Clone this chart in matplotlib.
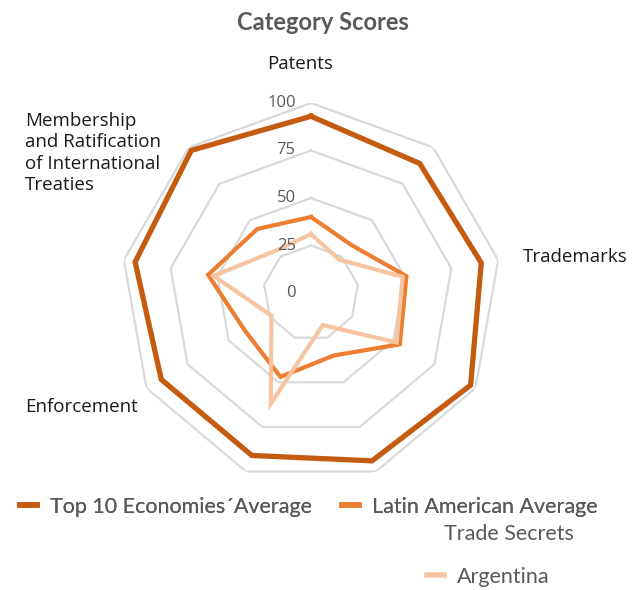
import numpy as np
import matplotlib.pyplot as plt
from matplotlib.lines import Line2D

# category order around the chart (clockwise from top)
categories = ["Patents", "Copyrights", "Trademarks", "Design Rights", "Trade Secrets",
              "Commercialization", "Enforcement", "Systemic Efficiency",
              "Membership and Ratification of International Treaties"]
series_names = ["Top 10 Economies\u00b4Average", "Latin American Average", "Argentina"]
top10 = [93, 89, 91, 97, 94, 91, 91, 94, 98]
latam = [40, 33, 51, 54, 35, 47, 40, 55, 44]
argentina = [31, 23, 49, 52, 18, 62, 24, 52, 29]
rings = [25, 50, 75, 100]
tick_labels = ["0", "25", "50", "75", "100"]

colors = ["#C55A11", "#ED7D31", "#F7C4A2"]
widths = [3.8, 3.0, 3.0]
grey = "#595959"

fig = plt.figure(figsize=(6.39, 5.9), dpi=100)
W, H = 639.0, 590.0
cx, cy, R = 311, 293, 190
ax = fig.add_axes([(cx - R) / W, 1 - (cy + R) / H, 2 * R / W, 2 * R / H], polar=True)
ax.set_theta_offset(np.pi / 2)
ax.set_theta_direction(-1)
ax.set_ylim(0, 100)
ax.set_axis_off()

n = len(categories)
ang = np.linspace(0, 2 * np.pi, n, endpoint=False)
ang_c = np.append(ang, ang[0])

# nonagon grid
for lv in rings:
    ax.plot(ang_c, [lv] * (n + 1), color="#D9D9D9", lw=1.6, zorder=1)

for vals, c, lw, name in zip([top10, latam, argentina], colors, widths, series_names):
    ax.plot(ang_c, vals + vals[:1], color=c, lw=lw, zorder=3, label=name,
            solid_joinstyle="miter")

# radial tick labels along the top axis
for lv, t in zip([0] + rings, tick_labels):
    ax.annotate(t, xy=(0, lv), xytext=(-11, 0), textcoords="offset points",
                ha="right", va="center", fontsize=12, color=grey,
                family="Open Sans", zorder=5)

# title
fig.text(323 / W, 1 - 22 / H, "Category Scores", ha="center", va="center",
         fontsize=17, fontweight="bold", color=grey, family="Lato")

# category labels (only those visible in the original)
lab_font = dict(fontsize=13.5, color="#1a1a1a", family="Open Sans")
fig.text(300 / W, 1 - 64 / H, categories[0], ha="center", va="center", **lab_font)
fig.text(523 / W, 1 - 257 / H, categories[2], ha="left", va="center", **lab_font)
fig.text(25 / W, 1 - 407 / H, categories[6], ha="left", va="center", **lab_font)
fig.text(25 / W, 1 - 153 / H, "Membership\nand Ratification\nof International\nTreaties",
         ha="left", va="center", linespacing=1.25, **lab_font)

# legend
handles = [Line2D([0], [0], color=c, lw=4) for c in colors]
leg_font = dict(family="Lato", size=15.5)
leg1 = fig.legend(handles[:2], series_names[:2], loc="center left",
                  bbox_to_anchor=(20 / W, 1 - 507 / H), ncol=2, frameon=False,
                  handlelength=0.8, handletextpad=0.6, columnspacing=1.4,
                  borderaxespad=0, borderpad=0, prop=leg_font, labelcolor=grey)
leg2 = fig.legend(handles[2:], series_names[2:], loc="center left",
                  bbox_to_anchor=(427 / W, 1 - 577 / H), frameon=False,
                  handlelength=0.8, handletextpad=0.6,
                  borderaxespad=0, borderpad=0, prop=leg_font, labelcolor=grey)
fig.add_artist(leg1)
fig.text(509 / W, 1 - 534 / H, categories[4], ha="center", va="center",
         fontsize=15.5, family="Lato", color=grey)

fig.savefig("out.png", dpi=100)
